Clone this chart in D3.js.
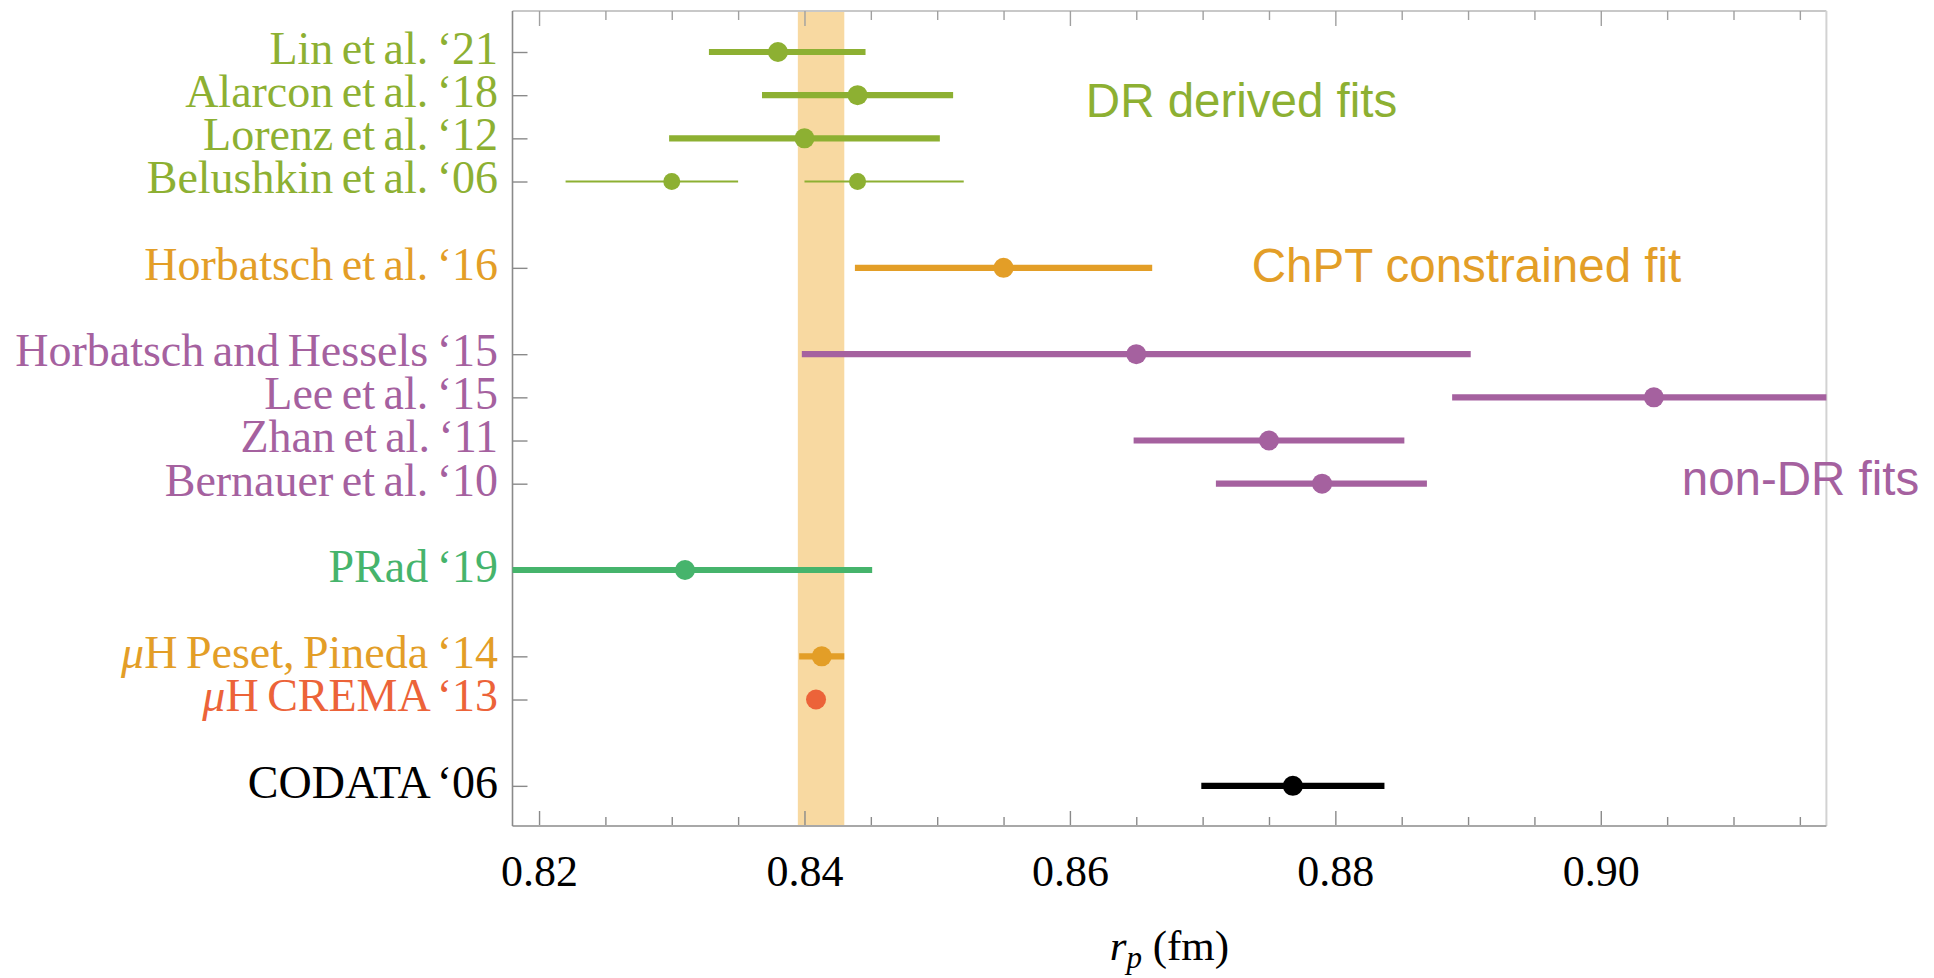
<!DOCTYPE html>
<html>
<head>
<meta charset="utf-8">
<script src="https://cdn.jsdelivr.net/npm/d3@7"></script>
<style>
  html, body { margin: 0; padding: 0; background: #fff; }
  svg { display: block; }
</style>
</head>
<body>
<svg id="chart" width="1934" height="978"></svg>
<script>
// Proton charge radius determinations (fm)
const studyLabels = [
  "Lin et al. ‘21", "Alarcon et al. ‘18", "Lorenz et al. ‘12", "Belushkin et al. ‘06",
  "Horbatsch et al. ‘16",
  "Horbatsch and Hessels ‘15", "Lee et al. ‘15", "Zhan et al. ‘11", "Bernauer et al. ‘10",
  "PRad ‘19",
  "μH Peset, Pineda ‘14", "μH CREMA ‘13",
  "CODATA ‘06"
];
const labelRows   = [0, 1, 2, 3, 5, 7, 8, 9, 10, 12, 14, 15, 17];
const labelGroups = ["dr", "dr", "dr", "dr", "chpt", "nondr", "nondr", "nondr", "nondr", "prad", "muh", "crema", "codata"];

// Central values and uncertainty intervals (Belushkin '06 has two results on one row)
const pointRows   = [0, 1, 2, 3, 3, 5, 7, 8, 9, 10, 12, 14, 15, 17];
const pointValues = [0.838, 0.844, 0.840, 0.830, 0.844, 0.855, 0.865, 0.904, 0.875, 0.879, 0.831, 0.8413, 0.84087, 0.8768];
const pointLow    = [0.8328, 0.8368, 0.8298, 0.8220, 0.8400, 0.8438, 0.8398, 0.8888, 0.8648, 0.8710, 0.8170, 0.8396, 0.84048, 0.8699];
const pointHigh   = [0.8446, 0.8512, 0.8502, 0.8350, 0.8520, 0.8662, 0.8902, 0.9190, 0.8852, 0.8869, 0.8451, 0.8430, 0.84126, 0.8837];
const pointGroups = ["dr", "dr", "dr", "dr", "dr", "chpt", "nondr", "nondr", "nondr", "nondr", "prad", "muh", "crema", "codata"];
const pointThin   = [false, false, false, true, true, false, false, false, false, false, false, false, false, false];

// Muonic hydrogen band
const bandRange = [0.8395, 0.8430];

// Axis ticks
const majorTicks = [0.82, 0.84, 0.86, 0.88, 0.90];
const minorTicks = [0.825, 0.83, 0.835, 0.845, 0.85, 0.855, 0.865, 0.87, 0.875, 0.885, 0.89, 0.895, 0.905, 0.91, 0.915];
const tickLabels = ["0.82", "0.84", "0.86", "0.88", "0.90"];

// Group annotations
const annotTexts  = ["DR derived fits", "ChPT constrained fit", "non-DR fits"];
const annotX      = [0.8612, 0.8737, 0.9061];
const annotRow    = [1.5, 5.32, 10.27];
const annotGroups = ["dr", "chpt", "nondr"];

const colors = {
  dr: "#8db032", chpt: "#e39e27", muh: "#e39e27", nondr: "#a5619f",
  prad: "#46b46c", crema: "#ec6339", codata: "#000000"
};

const svg = d3.select("#chart");
const plotLeft = 512.5, plotRight = 1826.4, plotTop = 11, plotBottom = 826;

const x = d3.scaleLinear().domain([0.818, 0.917]).range([plotLeft, plotRight]);
const y = d3.scaleLinear().domain([-0.95, 17.93]).range([plotTop, plotBottom]);

svg.append("defs").append("clipPath").attr("id", "plotClip")
  .append("rect").attr("x", plotLeft).attr("y", plotTop)
  .attr("width", plotRight - plotLeft).attr("height", plotBottom - plotTop);

// band
svg.append("rect")
  .attr("x", x(bandRange[0])).attr("width", x(bandRange[1]) - x(bandRange[0]))
  .attr("y", plotTop).attr("height", plotBottom - plotTop)
  .attr("fill", "#f8d9a1");

// frame: top and right in light grey
svg.append("line").attr("x1", plotLeft).attr("x2", plotRight).attr("y1", plotTop).attr("y2", plotTop)
  .attr("stroke", "#c8c8c8").attr("stroke-width", 2);
svg.append("line").attr("x1", plotRight).attr("x2", plotRight).attr("y1", plotTop).attr("y2", plotBottom)
  .attr("stroke", "#d2d2d2").attr("stroke-width", 2);

function styleAxis(g, color) {
  g.selectAll(".tick line").attr("stroke", color).attr("stroke-width", 1.4);
  g.select(".domain").remove();
}

// top ticks
const topMajor = svg.append("g").attr("transform", `translate(0,${plotTop})`)
  .call(d3.axisTop(x).tickValues(majorTicks).tickSize(-15).tickSizeOuter(0).tickFormat(""));
styleAxis(topMajor, "#a0a0a0");
const topMinor = svg.append("g").attr("transform", `translate(0,${plotTop})`)
  .call(d3.axisTop(x).tickValues(minorTicks).tickSize(-9).tickSizeOuter(0).tickFormat(""));
styleAxis(topMinor, "#a0a0a0");

// bottom axis
const botMajor = svg.append("g").attr("transform", `translate(0,${plotBottom})`)
  .call(d3.axisBottom(x).tickValues(majorTicks).tickSize(-15).tickSizeOuter(0).tickPadding(29)
    .tickFormat((d, i) => tickLabels[i]));
styleAxis(botMajor, "#8a8a8a");
botMajor.selectAll(".tick text")
  .attr("font-family", "'Liberation Serif', 'Times New Roman', serif")
  .attr("font-size", 44).attr("fill", "#000");
const botMinor = svg.append("g").attr("transform", `translate(0,${plotBottom})`)
  .call(d3.axisBottom(x).tickValues(minorTicks).tickSize(-9).tickSizeOuter(0).tickFormat(""));
styleAxis(botMinor, "#8a8a8a");
svg.append("line").attr("x1", plotLeft).attr("x2", plotRight).attr("y1", plotBottom).attr("y2", plotBottom)
  .attr("stroke", "#a8a8a8").attr("stroke-width", 2);

// left axis ticks
const leftAx = svg.append("g").attr("transform", `translate(${plotLeft},0)`)
  .call(d3.axisLeft(y).tickValues(labelRows).tickSize(-15).tickSizeOuter(0).tickFormat(""));
styleAxis(leftAx, "#8a8a8a");
svg.append("line").attr("x1", plotLeft).attr("x2", plotLeft).attr("y1", plotTop).attr("y2", plotBottom)
  .attr("stroke", "#8a8a8a").attr("stroke-width", 1.6);

// row labels
const labelG = svg.append("g")
  .attr("font-family", "'Liberation Serif', 'Times New Roman', serif")
  .attr("font-size", 46)
  .attr("text-anchor", "end");
studyLabels.forEach((lab, i) => {
  const t = labelG.append("text")
    .attr("x", plotLeft - 14.5)
    .attr("y", y(labelRows[i]))
    .attr("dy", "0.26em")
    .attr("word-spacing", "-3px")
    .attr("fill", colors[labelGroups[i]]);
  if (lab.startsWith("μ")) {
    t.append("tspan").attr("font-style", "italic").text("μ");
    t.append("tspan").text(lab.slice(1));
  } else {
    t.text(lab);
  }
});

// error bars and points
const pts = pointValues.map((v, i) => ({
  v, lo: pointLow[i], hi: pointHigh[i], row: pointRows[i], g: pointGroups[i], thin: pointThin[i]
}));
const marks = svg.append("g").attr("clip-path", "url(#plotClip)");
marks.selectAll("line.err").data(pts).join("line")
  .attr("class", "err")
  .attr("x1", d => x(d.lo)).attr("x2", d => x(d.hi))
  .attr("y1", d => y(d.row)).attr("y2", d => y(d.row))
  .attr("stroke", d => colors[d.g])
  .attr("stroke-width", d => d.thin ? 2 : 6.2);
marks.selectAll("circle.pt").data(pts).join("circle")
  .attr("class", "pt")
  .attr("cx", d => x(d.v)).attr("cy", d => y(d.row))
  .attr("r", d => d.thin ? 8.5 : 10)
  .attr("fill", d => colors[d.g]);

// group annotations
annotTexts.forEach((t, i) => {
  svg.append("text")
    .attr("x", x(annotX[i])).attr("y", y(annotRow[i]))
    .attr("font-family", "'Liberation Sans', Arial, sans-serif")
    .attr("font-size", 47.5)
    .attr("fill", colors[annotGroups[i]])
    .text(t);
});

// axis title
const title = svg.append("text")
  .attr("x", (plotLeft + plotRight) / 2).attr("y", 960)
  .attr("text-anchor", "middle")
  .attr("font-family", "'Liberation Serif', 'Times New Roman', serif")
  .attr("font-size", 43).attr("fill", "#000");
title.append("tspan").attr("font-style", "italic").text("r");
title.append("tspan").attr("font-style", "italic").attr("font-size", 31).attr("dy", 8).text("p");
title.append("tspan").attr("dy", -8).text(" (fm)");
</script>
</body>
</html>
